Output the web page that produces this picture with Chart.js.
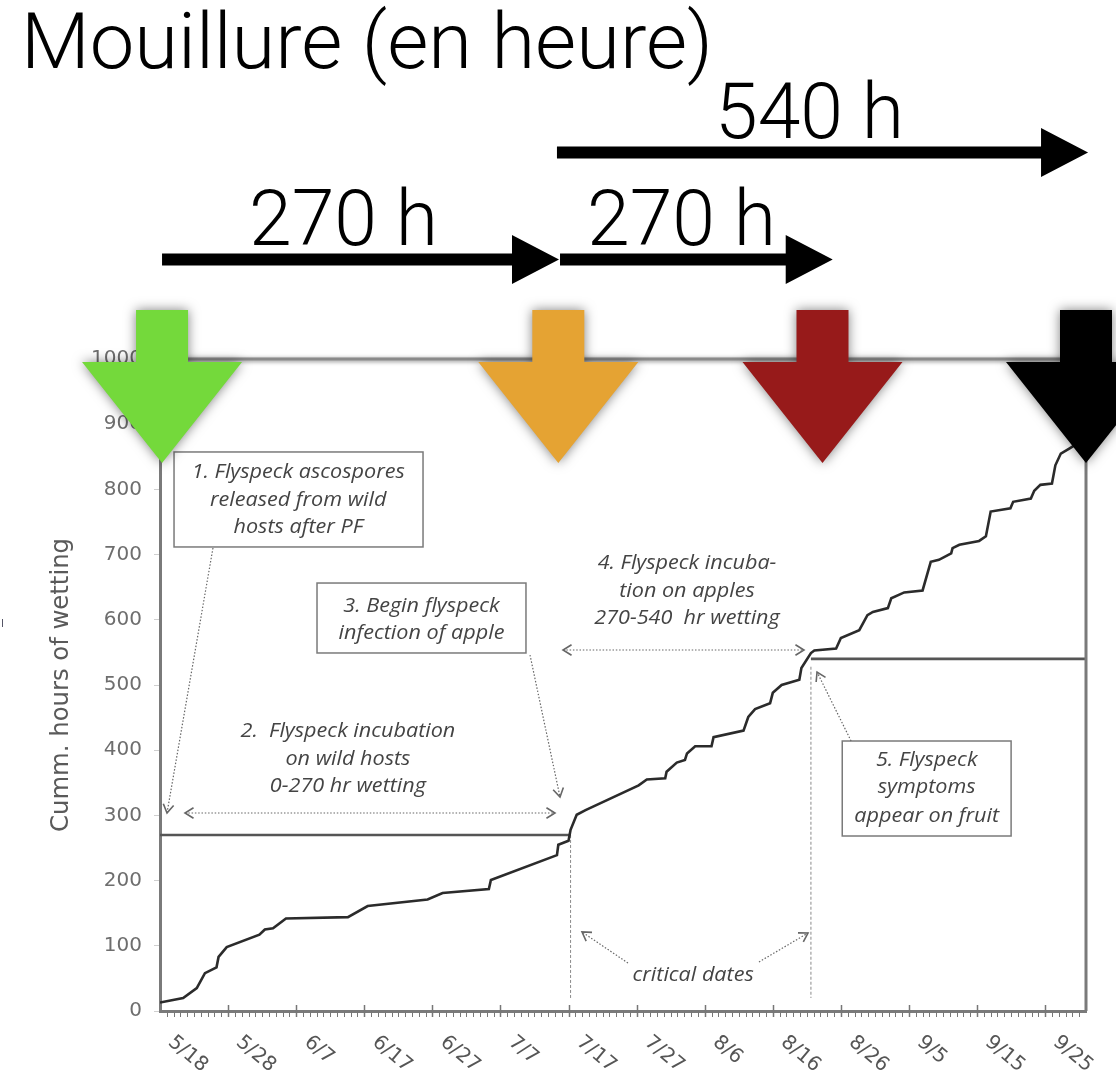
<!DOCTYPE html>
<html>
<head>
<meta charset="utf-8">
<script src="https://cdn.jsdelivr.net/npm/chart.js@4/dist/chart.umd.min.js"></script>
<style>
  html, body { margin: 0; padding: 0; background: #fff; }
</style>
</head>
<body>
<canvas id="graph1" width="1116" height="1081"></canvas>
<script>
// x = days after 5/18, y = cumulated hours of wetting
const tickDays = [0, 10, 20, 30, 40, 50, 60, 70, 80, 90, 100, 110, 120, 130];
const tickLabels = ['5/18', '5/28', '6/7', '6/17', '6/27', '7/7', '7/17', '7/27', '8/6', '8/16', '8/26', '9/5', '9/15', '9/25'];
const lastDay = 136;

const wetDays = [0, 3.4, 5.4, 6.6, 8.3, 8.6, 9.8, 14.6, 15.4, 16.6, 18.5, 27.6, 30.5, 39.3, 41.5, 48.3, 48.6, 58.3, 58.5,
  60.0, 60.3, 61.2, 62.5, 70.3, 71.5, 74.2, 74.4, 75.9, 77.1, 77.4, 78.6, 81.0, 81.3, 85.7, 86.4, 87.4, 89.6, 90.0, 91.3,
  93.9, 94.2, 95.6, 96.1, 99.3, 100.0, 102.7, 103.9, 104.7, 106.9, 107.4, 109.3, 112.0, 113.2, 114.4, 116.2, 116.4, 117.4,
  120.3, 121.3, 122.0, 124.9, 125.3, 127.9, 128.4, 129.3, 131.0, 131.5, 132.3, 133.6, 135.0];
const wetHours = [13, 20, 35, 58, 67, 83, 98, 117, 125, 127, 142, 144, 161, 171, 181, 187, 201, 239, 255,
  261, 278, 301, 308, 346, 355, 357, 367, 381, 385, 395, 406, 406, 420, 430, 451, 463, 472, 488, 500,
  508, 526, 549, 553, 556, 572, 584, 607, 612, 618, 633, 642, 645, 689, 692, 702, 710, 715,
  721, 728, 766, 771, 781, 786, 798, 807, 809, 837, 855, 863, 872];

const firstStage = 270;
const secondStage = 540;
const criticalDays = [60.3, 95.6];

// big coloured arrows on top of the plot (day of the arrow)
const stageDays = [0.3, 58.5, 97.3, 136];
const stageColors = ['#74d93b', '#e5a333', '#971a1a', '#000000'];

// text notes, in data units (day, hours)
const notes = [
  { text: ['1. Flyspeck ascospores', 'released from wild', 'hosts after PF'], day: 20.3, hours: [826.7, 783.7, 742.3], box: [2.06, 857.4, 38.63, 711.7] },
  { text: ['2.  Flyspeck incubation', 'on wild hosts', '0-270 hr wetting'], day: 27.6, hours: [428.4, 386.2, 344.3] },
  { text: ['3. Begin flyspeck', 'infection of apple'], day: 38.4, hours: [621.2, 579.8], box: [23.06, 656.4, 53.75, 549.1] },
  { text: ['4. Flyspeck incuba-', 'tion on apples', '270-540  hr wetting'], day: 77.4, hours: [687.1, 644.2, 602.8] },
  { text: ['5. Flyspeck', 'symptoms', 'appear on fruit'], day: 112.6, hours: [385, 343.6, 299.1], box: [100.2, 414.1, 125, 268.4] },
  { text: ['critical dates'], day: 78.3, hours: [55.2] }
];
const pointers = [
  { from: [7.78, 710.1], to: [1.03, 303.7], both: false },
  { from: [3.67, 303.7], to: [58.01, 303.7], both: true },
  { from: [54.34, 546], to: [58.75, 328.2], both: false },
  { from: [59.19, 553.7], to: [94.58, 553.7], both: true },
  { from: [101.5, 414.1], to: [96.5, 519.9], both: false },
  { from: [68.73, 73.6], to: [61.98, 121.2], both: false },
  { from: [87.97, 75.2], to: [95.17, 119.6], both: false }
];

let ctx = document.querySelector('#graph1');

const curve = wetDays.map((d, i) => ({ x: d, y: wetHours[i] }));

const data = {
  datasets: [
    { data: curve, borderColor: '#2b2b2b', borderWidth: 2.6, pointRadius: 0, tension: 0 },
    { data: [{ x: 0, y: firstStage }, { x: criticalDays[0], y: firstStage }], borderColor: '#555', borderWidth: 2.6, pointRadius: 0 },
    { data: [{ x: criticalDays[1], y: secondStage }, { x: lastDay, y: secondStage }], borderColor: '#555', borderWidth: 2.6, pointRadius: 0 },
    { data: [{ x: criticalDays[0], y: firstStage }, { x: criticalDays[0], y: 20 }], borderColor: '#8a8a8a', borderWidth: 1, borderDash: [3, 2], pointRadius: 0 },
    { data: [{ x: criticalDays[1], y: 528 }, { x: criticalDays[1], y: 20 }], borderColor: '#8a8a8a', borderWidth: 1, borderDash: [3, 2], pointRadius: 0 }
  ]
};

function chevron(c, x, y, ang) {
  c.save();
  c.setLineDash([]);
  c.lineWidth = 1.6;
  c.beginPath();
  c.moveTo(x - 10 * Math.cos(ang - 0.55), y - 10 * Math.sin(ang - 0.55));
  c.lineTo(x, y);
  c.lineTo(x - 10 * Math.cos(ang + 0.55), y - 10 * Math.sin(ang + 0.55));
  c.stroke();
  c.restore();
}

// text squeezed or stretched to a given width
function fitText(c, text, x, y, width, align) {
  const w = c.measureText(text).width;
  c.save();
  c.translate(x, y);
  c.scale(width / w, 1);
  c.textAlign = align || 'left';
  c.fillText(text, 0, 0);
  c.restore();
}

function rightArrow(c, x1, x2, cy, thick, headLen, headHalf) {
  c.beginPath();
  c.moveTo(x1, cy - thick / 2);
  c.lineTo(x2 - headLen, cy - thick / 2);
  c.lineTo(x2 - headLen, cy - headHalf);
  c.lineTo(x2, cy);
  c.lineTo(x2 - headLen, cy + headHalf);
  c.lineTo(x2 - headLen, cy + thick / 2);
  c.lineTo(x1, cy + thick / 2);
  c.closePath();
  c.fill();
}

const decor = {
  id: 'decor',
  beforeDraw(chart) {
    const c = chart.ctx;
    c.save();
    c.fillStyle = '#fff';
    c.fillRect(0, 0, chart.width, chart.height);
    c.restore();
  },
  afterDraw(chart) {
    const c = chart.ctx;
    const xs = chart.scales.x, ys = chart.scales.y;
    const a = chart.chartArea;
    const px = d => xs.getPixelForValue(d);
    const py = h => ys.getPixelForValue(h);

    c.save();
    // frame: right and top
    c.strokeStyle = '#7a7a7a';
    c.lineWidth = 3;
    c.beginPath();
    c.moveTo(a.right, a.top);
    c.lineTo(a.right, a.bottom);
    c.stroke();
    c.save();
    c.shadowColor = 'rgba(0,0,0,0.5)';
    c.shadowBlur = 4;
    c.shadowOffsetY = 1;
    c.strokeStyle = '#8a8a8a';
    c.beginPath();
    c.moveTo(a.left, a.top);
    c.lineTo(a.right, a.top);
    c.stroke();
    c.restore();

    // y axis title
    c.save();
    c.fillStyle = '#5a5a5a';
    c.font = '24px "DejaVu Sans Condensed", "DejaVu Sans"';
    c.textBaseline = 'middle';
    c.translate(62, (a.top + a.bottom) / 2);
    c.rotate(-Math.PI / 2);
    fitText(c, 'Cumm. hours of wetting', 0, 0, 294, 'center');
    c.restore();

    // x ticks: minor per day, major every 10 days
    c.strokeStyle = '#777';
    c.lineWidth = 1;
    for (let d = 1; d < lastDay; d++) {
      const x = Math.round(px(d)) + 0.5;
      c.beginPath();
      c.moveTo(x, a.bottom);
      c.lineTo(x, a.bottom + 6);
      c.stroke();
    }
    c.lineWidth = 1.5;
    tickDays.forEach(d => {
      if (d === 0) return;
      const x = Math.round(px(d)) + 0.5;
      c.beginPath();
      c.moveTo(x, a.bottom - 6);
      c.lineTo(x, a.bottom + 6);
      c.stroke();
    });

    // x labels, rotated downwards
    c.fillStyle = '#555';
    c.font = '20px "DejaVu Sans"';
    c.textAlign = 'left';
    c.textBaseline = 'top';
    tickDays.forEach((d, i) => {
      c.save();
      c.translate(px(d) + 17, a.bottom + 21);
      c.rotate(40 * Math.PI / 180);
      c.fillText(tickLabels[i], 0, 0);
      c.restore();
    });

    // boxes and notes
    c.strokeStyle = '#7a7a7a';
    c.lineWidth = 1.5;
    c.fillStyle = '#444';
    c.font = 'italic 500 20px "Open Sans"';
    c.textAlign = 'center';
    c.textBaseline = 'middle';
    notes.forEach(n => {
      if (n.box) {
        const [d1, h1, d2, h2] = n.box;
        c.strokeRect(px(d1), py(h1), px(d2) - px(d1), py(h2) - py(h1));
      }
      n.text.forEach((t, i) => {
        const w = c.measureText(t).width * 1.08;
        fitText(c, t, px(n.day), py(n.hours[i]), w, 'center');
      });
    });

    // dotted pointers
    c.strokeStyle = '#666';
    pointers.forEach(p => {
      const x1 = px(p.from[0]), y1 = py(p.from[1]);
      const x2 = px(p.to[0]), y2 = py(p.to[1]);
      c.save();
      c.lineWidth = 1.2;
      c.setLineDash([1.5, 1.8]);
      c.beginPath();
      c.moveTo(x1, y1);
      c.lineTo(x2, y2);
      c.stroke();
      c.restore();
      const ang = Math.atan2(y2 - y1, x2 - x1);
      chevron(c, x2, y2, ang);
      if (p.both) chevron(c, x1, y1, ang + Math.PI);
    });

    // big coloured arrows
    stageDays.forEach((d, i) => {
      const cx = px(d);
      c.save();
      c.shadowColor = 'rgba(0,0,0,0.5)';
      c.shadowBlur = 12;
      c.fillStyle = stageColors[i];
      c.beginPath();
      c.moveTo(cx - 26, 310);
      c.lineTo(cx + 26, 310);
      c.lineTo(cx + 26, 362);
      c.lineTo(cx + 80, 362);
      c.lineTo(cx, 463);
      c.lineTo(cx - 80, 362);
      c.lineTo(cx - 26, 362);
      c.closePath();
      c.fill();
      c.restore();
    });

    // duration arrows above the plot
    c.fillStyle = '#000';
    rightArrow(c, px(0.3), px(58.6), 259.5, 12, 47, 24.5);
    rightArrow(c, px(58.75), px(98.8), 259.5, 12, 47, 24.5);
    rightArrow(c, px(58.3), px(136.3), 152.5, 12, 47, 24.5);

    c.font = '300 77px Roboto';
    c.textBaseline = 'alphabetic';
    fitText(c, 'Mouillure (en heure)', 21, 68, 692);
    fitText(c, '540 h', 715, 138, 189);
    fitText(c, '270 h', 249, 245, 189);
    fitText(c, '270 h', 587, 245, 189);

    // small stray mark at the left edge
    c.strokeStyle = '#556';
    c.lineWidth = 1;
    c.beginPath();
    c.moveTo(2.5, 619);
    c.lineTo(2.5, 627);
    c.stroke();
    c.restore();
  }
};

const config = {
  type: 'line',
  data: data,
  options: {
    responsive: false,
    devicePixelRatio: 1,
    animation: false,
    events: [],
    layout: { padding: { top: 359, right: 30, bottom: 0, left: 0 } },
    plugins: { legend: { display: false }, tooltip: { enabled: false } },
    scales: {
      x: {
        type: 'linear',
        min: 0,
        max: lastDay,
        ticks: { display: false },
        grid: { display: false },
        border: { display: true, color: '#7a7a7a', width: 3 },
        afterFit: s => { s.height = 70; }
      },
      y: {
        min: 0,
        max: 1000,
        ticks: {
          stepSize: 100,
          color: '#6e6e6e',
          font: { family: 'DejaVu Sans', size: 20 },
          padding: 12,
          callback: v => String(v)
        },
        grid: { drawOnChartArea: false, tickLength: 6, color: '#cfcfcf' },
        border: { display: true, color: '#7a7a7a', width: 3 },
        afterFit: s => { s.width = 160; }
      }
    }
  },
  plugins: [decor]
};

const graph1 = new Chart(ctx, config);
</script>
</body>
</html>
